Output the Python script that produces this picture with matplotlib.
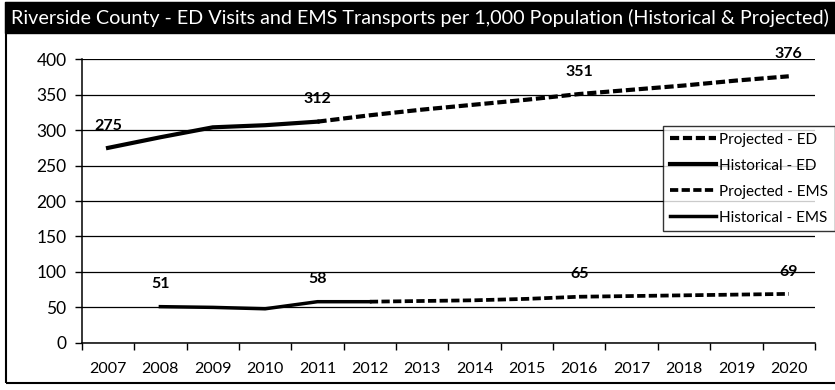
import matplotlib.pyplot as plt
from matplotlib.patches import Rectangle

# Years on the category axis
years = ['2007', '2008', '2009', '2010', '2011', '2012', '2013',
         '2014', '2015', '2016', '2017', '2018', '2019', '2020']

# ED visits per 1,000 population
ed_hist_years = [0, 1, 2, 3, 4]
ed_hist = [275, 290, 304, 307, 312]
ed_proj_years = [4, 5, 6, 7, 8, 9, 10, 11, 12, 13]
ed_proj = [312, 321, 329, 336, 343, 351, 357, 363, 370, 376]

# EMS transports per 1,000 population
ems_hist_years = [1, 2, 3, 4, 5]
ems_hist = [51, 50, 48, 58, 58]
ems_proj_years = [5, 6, 7, 8, 9, 10, 11, 12, 13]
ems_proj = [58, 59, 60, 62, 65, 66, 67, 68, 69]

# values printed above the lines
ed_label_idx = [0, 4, 9, 13]
ems_label_idx = [1, 4, 9, 13]
ed_all = dict(zip(ed_hist_years + ed_proj_years, ed_hist + ed_proj))
ems_all = dict(zip(ems_hist_years + ems_proj_years, ems_hist + ems_proj))

plt.rcParams['font.family'] = ['Lato', 'DejaVu Sans']

fig = plt.figure(figsize=(8.35, 3.9), dpi=100)
ax = fig.add_axes([0.098, 0.121, 0.878, 0.727])

dash = (0, (2.2, 0.9))
ax.plot(ed_proj_years, ed_proj, color='black', lw=3.0, linestyle=dash, label='Projected - ED')
ax.plot(ed_hist_years, ed_hist, color='black', lw=3.0, label='Historical - ED')
ax.plot(ems_proj_years, ems_proj, color='black', lw=2.7, linestyle=dash, label='Projected - EMS')
ax.plot(ems_hist_years, ems_hist, color='black', lw=2.5, label='Historical - EMS')

for i in ed_label_idx:
    ax.annotate(str(ed_all[i]), (i, ed_all[i]), xytext=(0, 11), textcoords='offset points',
                ha='center', va='bottom', fontsize=11.5, fontweight='bold')
for i in ems_label_idx:
    ax.annotate(str(ems_all[i]), (i, ems_all[i]), xytext=(0, 11), textcoords='offset points',
                ha='center', va='bottom', fontsize=11.5, fontweight='bold')

ax.set_ylim(0, 400)
ax.set_yticks(range(0, 401, 50))
ax.set_xlim(-0.5, len(years) - 0.5)
ax.set_xticks(range(len(years)))
ax.set_xticklabels(years)
ax.set_xticks([i - 0.5 for i in range(len(years) + 1)], minor=True)
ax.tick_params(axis='x', which='major', length=0, pad=14, labelsize=11.5)
ax.tick_params(axis='x', which='minor', length=5, width=1, direction='out')
ax.tick_params(axis='y', length=5, width=1, labelsize=12.5, pad=6)
ax.grid(axis='y', color='black', lw=0.9)
ax.set_axisbelow(True)
for s in ['top', 'right']:
    ax.spines[s].set_visible(False)
for s in ['left', 'bottom']:
    ax.spines[s].set_linewidth(1.1)

leg = ax.legend(loc='upper left', bbox_to_anchor=(0.794, 0.677), bbox_transform=fig.transFigure,
                fontsize=11, frameon=True, fancybox=False, edgecolor='black',
                handlelength=3.0, handletextpad=0.2, labelspacing=0.78,
                borderpad=0.45, borderaxespad=0)
leg.get_frame().set_linewidth(1.0)

# black title bar and outer frame
fig.patches.append(Rectangle((0.007, 0.018), 1.0, 0.975, transform=fig.transFigure,
                             fill=False, edgecolor='black', lw=1.5))
fig.patches.append(Rectangle((0.006, 0.915), 1.0, 0.08, transform=fig.transFigure,
                             facecolor='black', edgecolor='black'))
fig.text(0.013, 0.955, 'Riverside County - ED Visits and EMS Transports per 1,000 Population (Historical & Projected)',
         color='white', fontsize=14.2, va='center', ha='left')

fig.savefig('out.png', dpi=100)
